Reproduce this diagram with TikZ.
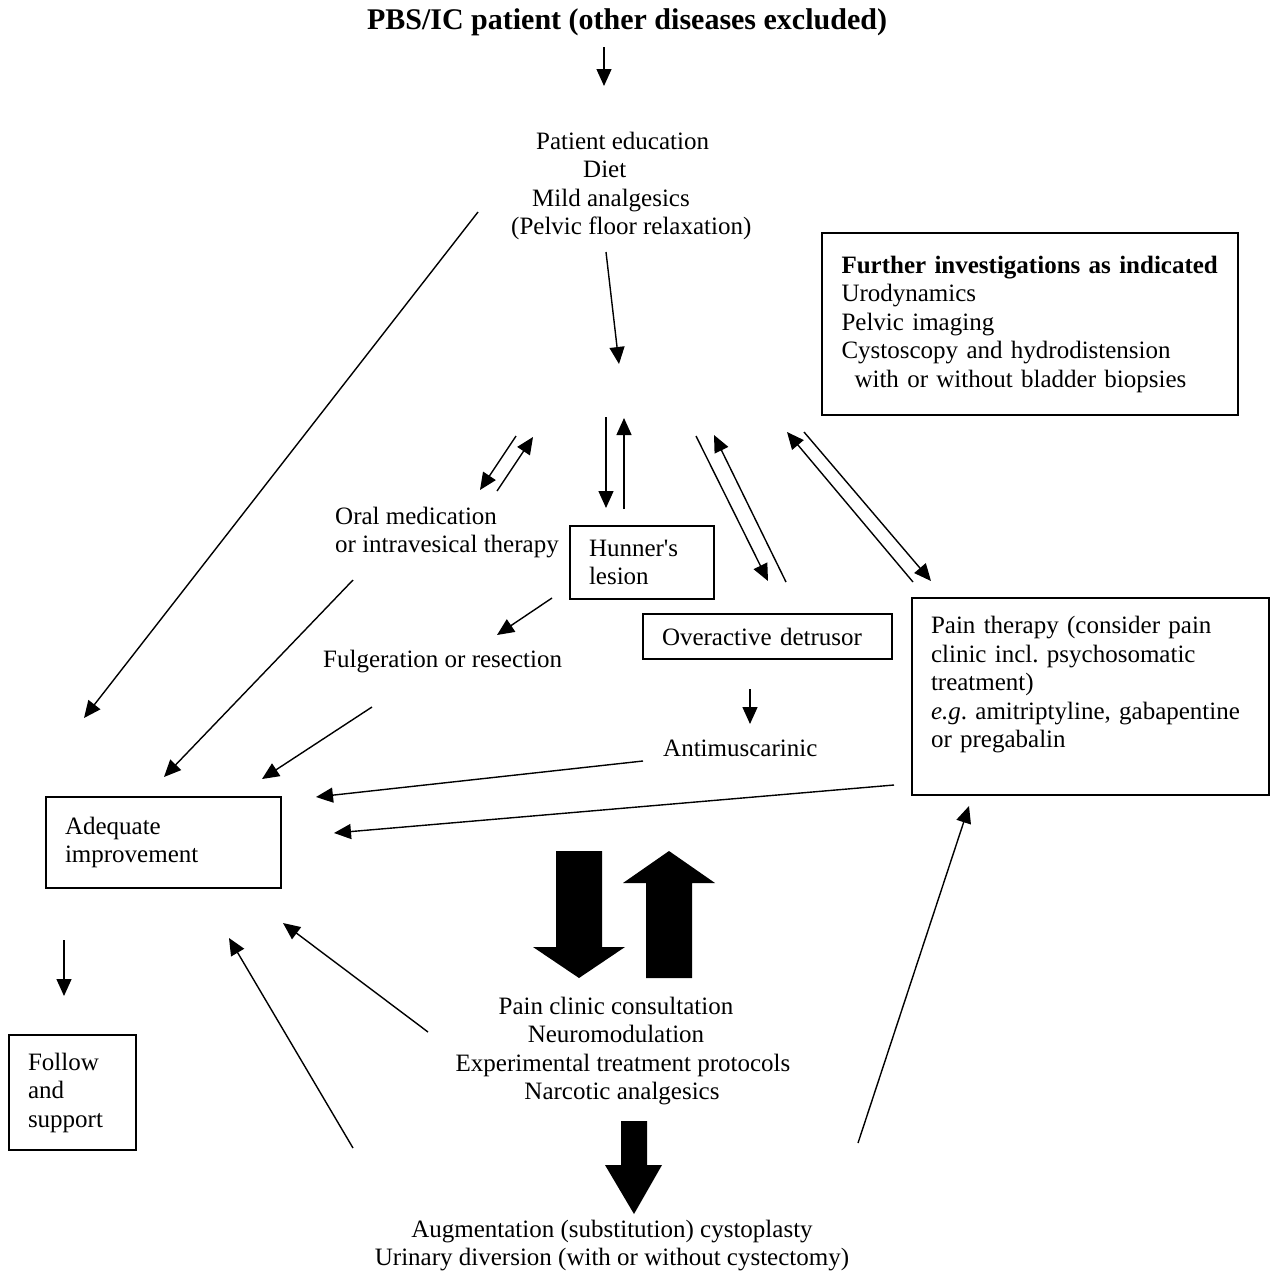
\documentclass[tikz,border=0pt]{standalone}
\usepackage{fontspec}
\setmainfont{Liberation Serif}
\usetikzlibrary{arrows.meta}
\newcommand{\txtsize}{\fontsize{25}{28.5}\selectfont\frenchspacing}
\tikzset{
  arr/.style={-{Triangle[length=17pt,width=15pt]}, line width=1.4pt},
  boxed/.style={draw, line width=1.4pt, align=left, inner xsep=19pt, inner ysep=0pt},
  plain/.style={inner sep=0pt},
  bigarrow/.style={fill=black}
}
\begin{document}
\begin{tikzpicture}[x=1pt, y=-1pt, font=\txtsize]
    \useasboundingbox (0,0) rectangle (1281,1282);
    \node[plain, font=\fontsize{30}{34}\selectfont\bfseries] (title) at (627,22) {PBS/IC patient (other diseases excluded)};
    \node[plain, anchor=west, align=left] (educ) at (511,186) {\hspace*{25pt}Patient education\\ \hspace*{72pt}Diet\\ \hspace*{21pt}Mild analgesics\\ (Pelvic floor relaxation)};
    \node[boxed, minimum width=416pt, minimum height=182pt, text width=377pt] (further) at (1030,324) {\textbf{Further investigations as indicated}\\ Urodynamics\\ Pelvic imaging\\ Cystoscopy and hydrodistension\\ \hspace*{13pt}with or without bladder biopsies};
    \node[plain, anchor=west, align=left] (oral) at (335,532.5) {Oral medication\\ or intravesical therapy};
    \node[boxed, minimum width=144pt, minimum height=73pt, text width=106pt] (hunner) at (642,562.5) {Hunner\textquotesingle s\\ lesion};
    \node[boxed, minimum width=249pt, minimum height=45pt, text width=211pt] (overactive) at (767.5,636.5) {Overactive detrusor};
    \node[boxed, minimum width=357pt, minimum height=197pt, text width=319pt] (pain) at (1090.5,696.5) {Pain therapy (consider pain\\ clinic incl. psychosomatic\\ treatment)\\ \textit{e.g}. amitriptyline, gabapentine\\ or pregabalin\\ \mbox{}};
    \node[plain, anchor=west] (fulg) at (323,662) {Fulgeration or resection};
    \node[plain, anchor=west] (antimus) at (663,748) {Antimuscarinic};
    \node[boxed, minimum width=235pt, minimum height=91pt, text width=197pt] (adequate) at (163.5,842.5) {Adequate\\ improvement};
    \node[boxed, minimum width=127pt, minimum height=115pt, text width=89pt] (follow) at (72.5,1092.5) {Follow\\ and\\ support};
    \node[plain, align=center] (clinic) at (616,1051) {Pain clinic consultation\\ Neuromodulation\\ \hspace*{14pt}Experimental treatment protocols\\ \hspace*{12pt}Narcotic analgesics};
    \node[plain, align=center] (augment) at (612,1245.5) {Augmentation (substitution) cystoplasty\\ Urinary diversion (with or without cystectomy)};

    \coordinate (titleS) at (604,47);   \coordinate (educN) at (604,86);
    \coordinate (educS) at (606,252);   \coordinate (hubN) at (619,364);
    \coordinate (educSW) at (478,212);  \coordinate (adeqNW) at (84,718);
    \coordinate (hubW1) at (516,436);   \coordinate (oralNE1) at (480,490);
    \coordinate (oralNE2) at (497,491); \coordinate (hubW2) at (533,437);
    \coordinate (hubS1) at (606,417);   \coordinate (hunN1) at (606,508);
    \coordinate (hunN2) at (624,509);   \coordinate (hubS2) at (624,418);
    \coordinate (hubE1) at (696,436);   \coordinate (overN1) at (768,581);
    \coordinate (overN2) at (786,582);  \coordinate (hubE2) at (714,435);
    \coordinate (hubE3) at (804,432);   \coordinate (painNW1) at (931,581);
    \coordinate (painNW2) at (913,582); \coordinate (hubE4) at (787,432);
    \coordinate (hunSW) at (552,598);   \coordinate (fulgNE) at (497,635);
    \coordinate (oralSW) at (353,580);  \coordinate (adeqN1) at (164,777);
    \coordinate (fulgSW) at (372,707);  \coordinate (adeqN2) at (262,779);
    \coordinate (overS) at (750,689);   \coordinate (antimusN) at (750,724);
    \coordinate (antimusW) at (643,761);\coordinate (adeqE1) at (316,797);
    \coordinate (painW) at (894,785);   \coordinate (adeqE2) at (334,833);
    \coordinate (adeqS) at (64,940);    \coordinate (followN) at (64,996);
    \coordinate (clinicW) at (428,1032);\coordinate (adeqSE1) at (283,923);
    \coordinate (augNW) at (353,1148);  \coordinate (adeqSE2) at (229,938);
    \coordinate (augNE) at (858,1143);  \coordinate (painS) at (969,806);

    \draw[arr] (titleS) -- (educN);
    \draw[arr] (educS) -- (hubN);
    \draw[arr] (educSW) -- (adeqNW);
    \draw[arr] (hubW1) -- (oralNE1);
    \draw[arr] (oralNE2) -- (hubW2);
    \draw[arr] (hubS1) -- (hunN1);
    \draw[arr] (hunN2) -- (hubS2);
    \draw[arr] (hubE1) -- (overN1);
    \draw[arr] (overN2) -- (hubE2);
    \draw[arr] (hubE3) -- (painNW1);
    \draw[arr] (painNW2) -- (hubE4);
    \draw[arr] (hunSW) -- (fulgNE);
    \draw[arr] (oralSW) -- (adeqN1);
    \draw[arr] (fulgSW) -- (adeqN2);
    \draw[arr] (overS) -- (antimusN);
    \draw[arr] (antimusW) -- (adeqE1);
    \draw[arr] (painW) -- (adeqE2);
    \draw[arr] (adeqS) -- (followN);
    \draw[arr] (clinicW) -- (adeqSE1);
    \draw[arr] (augNW) -- (adeqSE2);
    \draw[arr] (augNE) -- (painS);

    \fill[bigarrow] (556,851) -- (602,851) -- (602,947) -- (625,947) -- (579,978) -- (533,947) -- (556,947) -- cycle;
    \fill[bigarrow] (646,978) -- (692,978) -- (692,883) -- (715,883) -- (669,851) -- (623,883) -- (646,883) -- cycle;
    \fill[bigarrow] (621,1121) -- (647,1121) -- (647,1165) -- (662,1165) -- (634,1214) -- (605,1165) -- (621,1165) -- cycle;
\end{tikzpicture}
\end{document}
